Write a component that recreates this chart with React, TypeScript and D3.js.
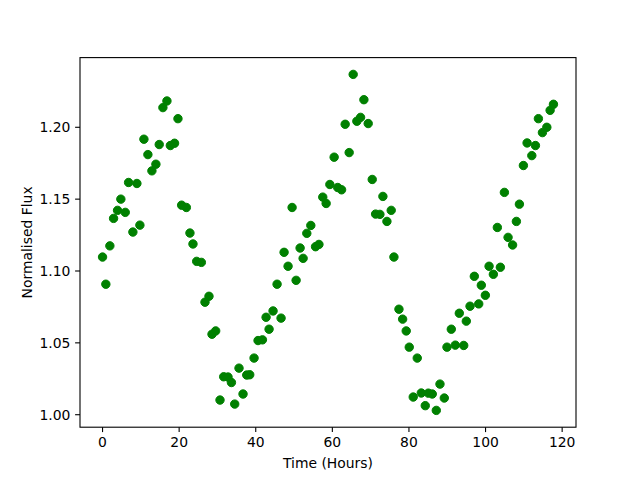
import React from "react";
import * as d3 from "d3";

const hours = [
  0.0, 0.86, 1.91, 2.88, 3.92, 4.78, 5.93, 6.8, 7.92, 8.97, 9.75, 10.8, 11.84,
  12.89, 13.93, 14.8, 15.76, 16.81, 17.7, 18.8, 19.69, 20.65, 21.88, 22.82,
  23.61, 24.58, 25.8, 26.75, 27.79, 28.58, 29.54, 30.67, 31.63, 32.76, 33.65,
  34.51, 35.63, 36.68, 37.65, 38.43, 39.56, 40.6, 41.75, 42.7, 43.48, 44.52,
  45.57, 46.61, 47.4, 48.44, 49.49, 50.54, 51.58, 52.37, 53.33, 54.38, 55.61,
  56.5, 57.5, 58.38, 59.35, 60.47, 61.4, 62.41, 63.35, 64.39, 65.44, 66.4,
  67.37, 68.24, 69.36, 70.41, 71.29, 72.42, 73.2, 74.25, 75.37, 76.08, 77.39,
  78.35, 79.29, 80.08, 81.12, 82.17, 83.22, 84.26, 85.05, 86.09, 87.14, 88.1,
  89.23, 89.93, 91.06, 92.1, 93.15, 94.3, 94.98, 95.95, 97.07, 98.22, 98.9,
  99.95, 100.92, 102.04, 103.08, 103.87, 104.92, 105.88, 107.06, 108.05,
  108.84, 109.88, 110.85, 112.08, 113.02, 113.8, 114.85, 116.0, 116.86, 117.73,
];

const flux = [
  1.1097, 1.0908, 1.1175, 1.1366, 1.1422, 1.15, 1.1408, 1.1616, 1.1271, 1.1609,
  1.1319, 1.1917, 1.181, 1.1697, 1.1743, 1.188, 1.2137, 1.2183, 1.1873, 1.1889,
  1.206, 1.1458, 1.1442, 1.1264, 1.1188, 1.1067, 1.106, 1.0783, 1.0824, 1.056,
  1.0583, 1.0102, 1.0264, 1.0262, 1.0224, 1.0074, 1.0324, 1.0144, 1.0276,
  1.0278, 1.0394, 1.0516, 1.0521, 1.0678, 1.0595, 1.0722, 1.0908, 1.0672,
  1.113, 1.1033, 1.1442, 1.0935, 1.116, 1.1088, 1.1262, 1.1317, 1.1169, 1.1185,
  1.1514, 1.147, 1.1602, 1.1792, 1.1581, 1.1565, 1.2021, 1.1824, 1.2368,
  1.2042, 1.2069, 1.2192, 1.2026, 1.1637, 1.1396, 1.1394, 1.1519, 1.1345,
  1.1422, 1.1097, 1.0734, 1.0665, 1.0583, 1.047, 1.0123, 1.0394, 1.0151,
  1.0063, 1.015, 1.0144, 1.003, 1.0213, 1.0116, 1.047, 1.0595, 1.0484, 1.0706,
  1.0482, 1.0651, 1.0755, 1.0963, 1.0771, 1.0901, 1.0831, 1.1033, 1.0977,
  1.1303, 1.1026, 1.1547, 1.1234, 1.1181, 1.1345, 1.1465, 1.1734, 1.1891,
  1.1803, 1.1873, 1.206, 1.1963, 1.2, 1.2118, 1.216,
];

const xTicks = [0, 20, 40, 60, 80, 100, 120];
const yTicks = [1.0, 1.05, 1.1, 1.15, 1.2];

const W = 640;
const H = 480;
const left = 80;
const right = 576;
const top = 57.6;
const bottom = 427.2;
const font = "DejaVu Sans, sans-serif";

// matplotlib style 5% margins around the data
const pad = (lo: number, hi: number) => {
  const m = (hi - lo) * 0.05;
  return [lo - m, hi + m];
};

const App = () => {
  const x = d3
    .scaleLinear()
    .domain(pad(d3.min(hours)!, d3.max(hours)!))
    .range([left, right]);
  const y = d3
    .scaleLinear()
    .domain(pad(d3.min(flux)!, d3.max(flux)!))
    .range([bottom, top]);

  return (
    <svg
      width={W}
      height={H}
      style={{ position: "absolute", left: 0, top: 0, background: "#fff" }}
      fontFamily={font}
    >
      <rect x={0} y={0} width={W} height={H} fill="#fff" />
      {hours.map((h, i) => (
        <circle
          key={i}
          cx={x(h)}
          cy={y(flux[i])}
          r={4.2}
          fill="#008000"
          stroke="#008000"
          strokeWidth={1}
        />
      ))}
      <rect
        x={left}
        y={top}
        width={right - left}
        height={bottom - top}
        fill="none"
        stroke="#000"
        strokeWidth={1.1}
      />
      {xTicks.map((t) => (
        <g key={t} transform={`translate(${x(t)},${bottom})`}>
          <line y2={4.9} stroke="#000" strokeWidth={1.1} />
          <text y={9.7} dy="0.76em" textAnchor="middle" fontSize={13.9}>
            {t}
          </text>
        </g>
      ))}
      {yTicks.map((t) => (
        <g key={t} transform={`translate(${left},${y(t)})`}>
          <line x2={-4.9} stroke="#000" strokeWidth={1.1} />
          <text x={-9.7} dy="0.36em" textAnchor="end" fontSize={13.9}>
            {t.toFixed(2)}
          </text>
        </g>
      ))}
      <text
        x={(left + right) / 2}
        y={468}
        textAnchor="middle"
        fontSize={13.9}
      >
        Time (Hours)
      </text>
      <text
        transform={`translate(32,${(top + bottom) / 2}) rotate(-90)`}
        textAnchor="middle"
        fontSize={13.9}
      >
        Normalised Flux
      </text>
    </svg>
  );
};

export default App;
